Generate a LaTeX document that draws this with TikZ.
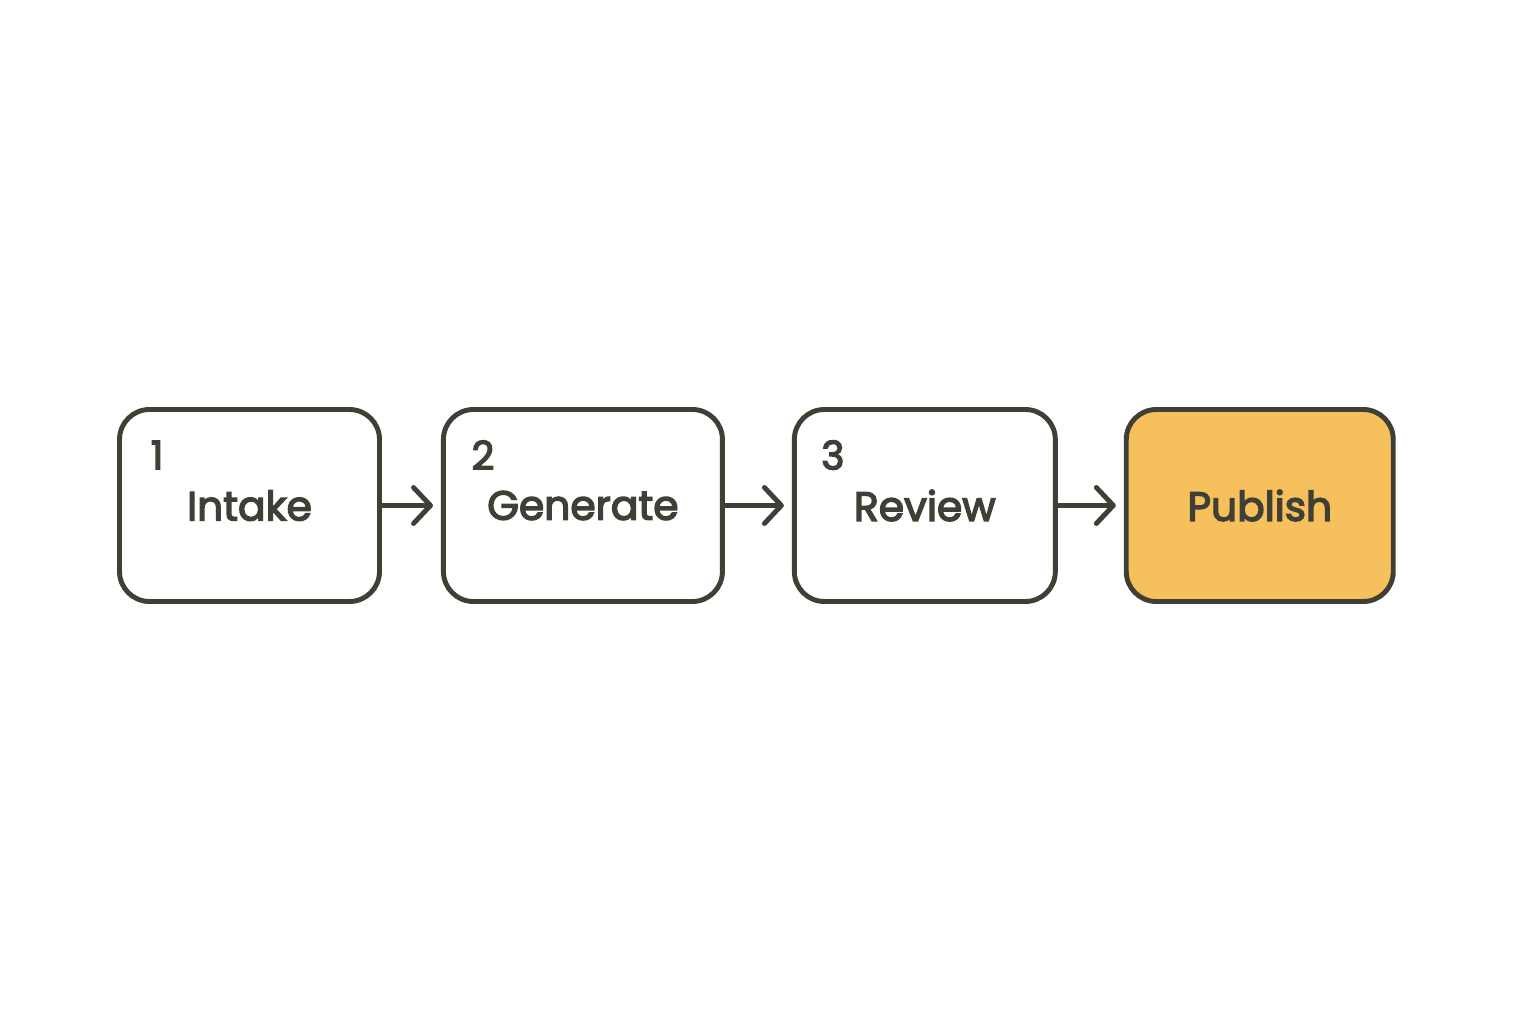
\documentclass[tikz,border=0pt]{standalone}
\usepackage{xcolor}
\usepackage{fontspec}
\setmainfont{Poppins}[BoldFont=Poppins, BoldFeatures={FakeBold=3.5}]
\usepackage{tikz}
\usetikzlibrary{arrows.meta, positioning}
\definecolor{myline}{HTML}{3F3F36}
\definecolor{myfill}{HTML}{F6C15C}

\begin{document}
\begin{tikzpicture}[auto,
        box/.style={rectangle, draw=myline, line width=1.4pt, rounded corners=0.3cm, minimum height=1.92cm, inner sep=0pt, fill=white, font=\fontsize{11.6}{14}\selectfont\bfseries, text=myline},
        num/.style={font=\fontsize{11.2}{14}\selectfont\bfseries, text=myline},
        arrow/.style={-{Straight Barb[length=1.7mm, width=3.6mm, round]}, line width=1.4pt, draw=myline, line cap=round, shorten >=0.08cm}]
        \useasboundingbox (0,0) rectangle (15.36,10.24);
        \node[box, minimum width=2.60cm] (p1) at (2.495,5.185) {\raisebox{-3pt}{Intake}};
        \node[box, minimum width=2.79cm, right=0.59cm of p1] (p2) {\raisebox{-3pt}{Generate}};
        \node[box, minimum width=2.61cm, right=0.67cm of p2] (p3) {\raisebox{-3pt}{Review}};
        \node[box, minimum width=2.67cm, right=0.66cm of p3, fill=myfill] (p4) {\raisebox{-3pt}{Publish}};
        
        \node[num] (n1) at ([shift={(0.40,-0.48)}]p1.north west) {1};
        \node[num] (n2) at ([shift={(0.42,-0.48)}]p2.north west) {2};
        \node[num] (n3) at ([shift={(0.41,-0.48)}]p3.north west) {3};
        
        \draw[arrow] (p1) -- (p2);
        \draw[arrow] (p2) -- (p3);
        \draw[arrow] (p3) -- (p4);
    \end{tikzpicture}
\end{document}
